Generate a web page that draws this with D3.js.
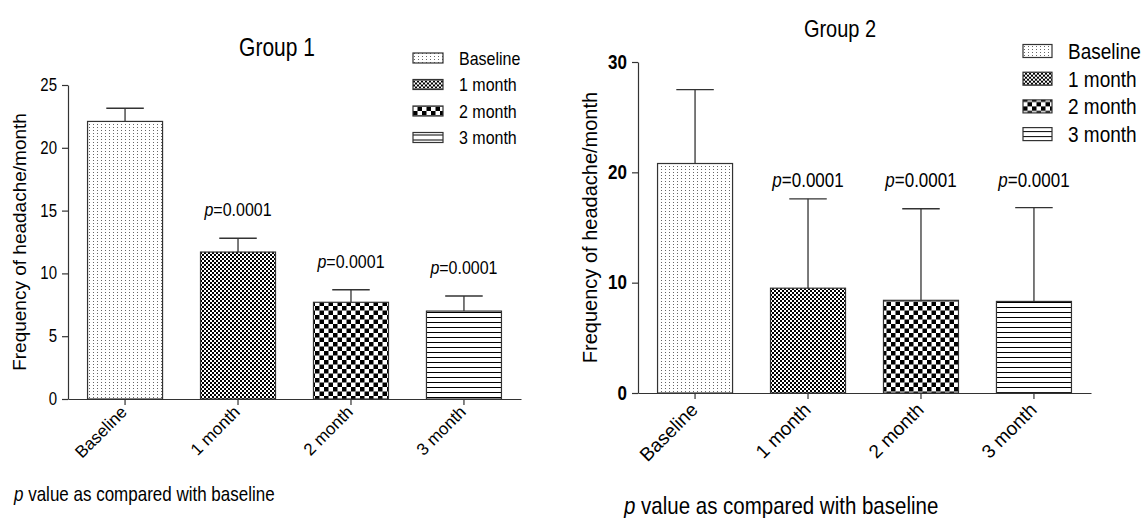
<!DOCTYPE html>
<html>
<head>
    <title>Headache frequency</title>
    <script src="https://d3js.org/d3.v7.min.js"></script>
    <style>
        body { margin: 0; background: #fff; }
        text { font-family: "Liberation Sans", Arial, sans-serif; fill: #000; }
    </style>
</head>
<body>
    <div id="chart"></div>

    <script>
        // data
        var categories = ["Baseline", "1 month", "2 month", "3 month"];
        var group1Mean = [22.1, 11.7, 7.7, 7.0];
        var group1Err = [1.05, 1.1, 1.0, 1.2];
        var group2Mean = [20.8, 9.5, 8.4, 8.3];
        var group2Err = [6.7, 8.1, 8.3, 8.5];
        var group1Ticks = [0, 5, 10, 15, 20, 25];
        var group2Ticks = [0, 10, 20, 30];
        var pValues = [null, "0.0001", "0.0001", "0.0001"];
        var patternIds = ["pat-base", "pat-m1", "pat-m2", "pat-m3"];

        // the source image is a bit taller than wide, text looks stretched
        var S = 1.2;

        var svg = d3.select("#chart").append("svg")
            .attr("width", 1148)
            .attr("height", 518);

        // fill patterns
        var defs = svg.append("defs");

        var p0 = defs.append("pattern").attr("id", "pat-base")
            .attr("patternUnits", "userSpaceOnUse").attr("width", 4).attr("height", 3);
        p0.append("rect").attr("width", 4).attr("height", 3).attr("fill", "#fff");
        p0.append("rect").attr("x", 1).attr("y", 1).attr("width", 1).attr("height", 1).attr("fill", "#666");

        var p1 = defs.append("pattern").attr("id", "pat-m1")
            .attr("patternUnits", "userSpaceOnUse").attr("width", 4).attr("height", 4);
        p1.append("rect").attr("width", 4).attr("height", 4).attr("fill", "#fff");
        p1.append("rect").attr("width", 2).attr("height", 2).attr("fill", "#000");
        p1.append("rect").attr("x", 2).attr("y", 2).attr("width", 2).attr("height", 2).attr("fill", "#000");

        var p2 = defs.append("pattern").attr("id", "pat-m2")
            .attr("patternUnits", "userSpaceOnUse").attr("width", 9).attr("height", 9);
        p2.append("rect").attr("width", 9).attr("height", 9).attr("fill", "#fff");
        p2.append("rect").attr("width", 4.5).attr("height", 4.5).attr("fill", "#000");
        p2.append("rect").attr("x", 4.5).attr("y", 4.5).attr("width", 4.5).attr("height", 4.5).attr("fill", "#000");

        var p3 = defs.append("pattern").attr("id", "pat-m3")
            .attr("patternUnits", "userSpaceOnUse").attr("width", 5).attr("height", 5);
        p3.append("rect").attr("width", 5).attr("height", 5).attr("fill", "#fff");
        p3.append("rect").attr("y", 2).attr("width", 5).attr("height", 1).attr("fill", "#000");

        // horizontal text with the vertical stretch
        function addText(parent, x, y, size) {
            return parent.append("text")
                .attr("transform", "translate(" + x + "," + y + ") scale(1," + S + ")")
                .style("font-size", size + "px");
        }

        function drawChart(opt) {
            var g = svg.append("g");

            var x = d3.scaleBand()
                .domain(categories)
                .range([opt.left, opt.right])
                .paddingInner(0.336)
                .paddingOuter(0.173);

            var y = d3.scaleLinear()
                .domain([0, opt.max])
                .range([opt.bottom, opt.top]);

            // y axis
            var yAxis = g.append("g")
                .attr("transform", "translate(" + opt.left + ",0)")
                .call(d3.axisLeft(y).tickValues(opt.ticks).tickSize(6).tickSizeOuter(0).tickPadding(5));
            yAxis.selectAll("text")
                .attr("transform", "scale(1," + S + ")")
                .attr("dy", "0.3em")
                .style("font-size", opt.tickFont + "px")
                .style("font-weight", opt.tickBold ? "bold" : "normal");

            // x axis, labels turned 45 degrees
            var xAxis = g.append("g")
                .attr("transform", "translate(0," + opt.bottom + ")")
                .call(d3.axisBottom(x).tickSize(6).tickSizeOuter(0));
            xAxis.selectAll("text")
                .attr("x", 0).attr("y", 0).attr("dy", 0)
                .attr("text-anchor", "end")
                .attr("transform", "translate(" + opt.labelDx + "," + opt.labelDy + ") rotate(-45)")
                .style("font-size", opt.labelFont + "px");

            g.selectAll(".domain, .tick line").attr("stroke", "#333").attr("stroke-width", 1.2);

            var data = categories.map(function(c, i) {
                return { cat: c, mean: opt.mean[i], err: opt.err[i], pat: patternIds[i], p: pValues[i] };
            });

            // bars
            g.selectAll(".bar")
                .data(data)
                .enter().append("rect")
                .attr("class", "bar")
                .attr("x", function(d) { return x(d.cat); })
                .attr("y", function(d) { return y(d.mean); })
                .attr("width", x.bandwidth())
                .attr("height", function(d) { return y(0) - y(d.mean); })
                .attr("fill", function(d) { return "url(#" + d.pat + ")"; })
                .attr("stroke", "#333")
                .attr("stroke-width", 1.2);

            // error bars (upper only)
            var cap = x.bandwidth() / 4;
            var eb = g.selectAll(".err")
                .data(data)
                .enter().append("g")
                .attr("class", "err")
                .attr("stroke", "#333")
                .attr("stroke-width", 1.3);
            eb.append("line")
                .attr("x1", function(d) { return x(d.cat) + x.bandwidth() / 2; })
                .attr("x2", function(d) { return x(d.cat) + x.bandwidth() / 2; })
                .attr("y1", function(d) { return y(d.mean); })
                .attr("y2", function(d) { return y(d.mean + d.err); });
            eb.append("line")
                .attr("x1", function(d) { return x(d.cat) + x.bandwidth() / 2 - cap; })
                .attr("x2", function(d) { return x(d.cat) + x.bandwidth() / 2 + cap; })
                .attr("y1", function(d) { return y(d.mean + d.err); })
                .attr("y2", function(d) { return y(d.mean + d.err); });

            // p value labels
            var withP = data.filter(function(d) { return d.p; });
            var commonTop = d3.max(withP, function(d) { return d.mean + d.err; });
            withP.forEach(function(d) {
                var py = (opt.pCommon ? y(commonTop) : y(d.mean + d.err)) - opt.pGap;
                var t = addText(g, x(d.cat) + x.bandwidth() / 2, py, opt.pFont)
                    .attr("text-anchor", "middle");
                t.append("tspan").style("font-style", "italic").text("p");
                t.append("tspan").text("=" + d.p);
            });

            // title
            addText(g, opt.titleX, opt.titleY, opt.titleFont)
                .attr("text-anchor", "middle")
                .text(opt.title);

            // y axis label
            g.append("text")
                .attr("transform", "translate(" + opt.yLabelX + "," + ((opt.top + opt.bottom) / 2) + ") rotate(-90)")
                .attr("text-anchor", "middle")
                .style("font-size", opt.yLabelFont + "px")
                .text("Frequency of headache/month");

            // x axis title
            var xt = addText(g, opt.xTitleX, opt.xTitleY, opt.xTitleFont);
            xt.append("tspan").style("font-style", "italic").text("p");
            xt.append("tspan").text(" value as compared with baseline");

            // legend
            var leg = g.selectAll(".leg")
                .data(data)
                .enter().append("g")
                .attr("class", "leg")
                .attr("transform", function(d, i) {
                    return "translate(" + opt.legX + "," + (opt.legY + i * opt.legStep) + ")";
                });
            leg.append("rect")
                .attr("width", opt.swW)
                .attr("height", opt.swH)
                .attr("y", -opt.swH / 2)
                .attr("fill", function(d) { return "url(#" + d.pat + ")"; })
                .attr("stroke", "#333")
                .attr("stroke-width", 1.2);
            leg.append("text")
                .attr("transform", "translate(" + (opt.swW + 16) + ",0) scale(1," + S + ")")
                .attr("dy", "0.35em")
                .style("font-size", opt.legFont + "px")
                .text(function(d) { return d.cat; });
        }

        drawChart({
            title: "Group 1", titleX: 277, titleY: 56, titleFont: 21,
            mean: group1Mean, err: group1Err, max: 25, ticks: group1Ticks,
            left: 68, right: 521, top: 85, bottom: 399,
            tickFont: 15, tickBold: false,
            labelFont: 17, labelDx: 3, labelDy: 14,
            yLabelX: 26, yLabelFont: 19,
            xTitleX: 14, xTitleY: 501, xTitleFont: 17,
            pFont: 16, pGap: 22, pCommon: false,
            legX: 413, legY: 58, legStep: 26.5, swW: 30, swH: 10, legFont: 16
        });

        drawChart({
            title: "Group 2", titleX: 840, titleY: 37, titleFont: 20,
            mean: group2Mean, err: group2Err, max: 30, ticks: group2Ticks,
            left: 638, right: 1091, top: 62, bottom: 393,
            tickFont: 17, tickBold: true,
            labelFont: 19, labelDx: 4, labelDy: 18,
            yLabelX: 597, yLabelFont: 20,
            xTitleX: 624, xTitleY: 514, xTitleFont: 20.5,
            pFont: 17, pGap: 12, pCommon: true,
            legX: 1023, legY: 51, legStep: 27.7, swW: 29, swH: 13, legFont: 19
        });
    </script>
</body>
</html>
